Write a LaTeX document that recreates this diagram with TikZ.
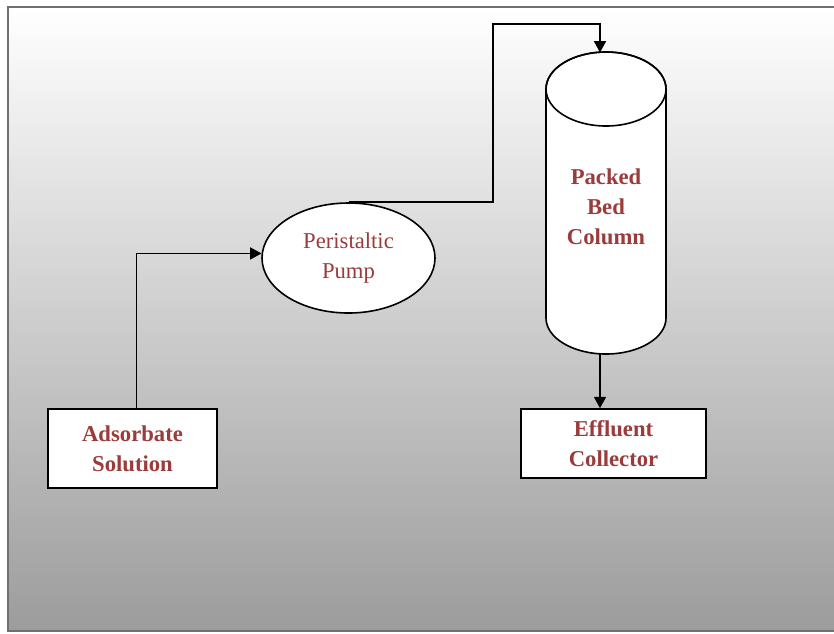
\documentclass[tikz,border=0pt]{standalone}
\usepackage{fontspec}
\setmainfont{Liberation Serif}
\usetikzlibrary{arrows.meta,shapes.geometric}
\definecolor{labelred}{RGB}{155,59,59}
\definecolor{framegray}{RGB}{112,112,112}
\definecolor{bottomgray}{RGB}{156,156,156}
\begin{document}
\begin{tikzpicture}[x=0.75pt,y=-0.75pt,>={Triangle[length=8.5pt,width=9pt]},
    unit/.style={draw=black,fill=white,line width=1.2pt,inner sep=0pt,align=center,
                 text=labelred,font=\fontsize{17}{22.5}\selectfont},
    boldunit/.style={unit,font=\fontsize{17}{22.5}\selectfont\bfseries},
    pipe/.style={->,line width=1.1pt}]
            \useasboundingbox (0,0) rectangle (834,633);
            %\draw[ultra thin,gray!20](0,0) grid[step=50] (834,633);
            \fill[top color=white,bottom color=bottomgray] (8,7) rectangle (845,631);
            \draw[framegray,line width=1.5pt] (8,7) rectangle (845,631);
            % packed bed column
            \draw[fill=white,line width=1.2pt] (546,89) -- (546,318)
                arc[start angle=180,end angle=0,x radius=60,y radius=36] -- (666,89)
                arc[start angle=0,end angle=-180,x radius=60,y radius=37] -- cycle;
            \draw[line width=1.2pt] (606,89) ellipse [x radius=60,y radius=37];
            \coordinate (coltop) at (600,52.5);
            \coordinate (colbot) at (600,354);
            \node[boldunit,draw=none,fill=none] (col) at (606,207) {Packed\\Bed\\Column};
            \node[unit,ellipse,minimum width=173*0.75pt,minimum height=110*0.75pt] (pump) at (348.5,258) {Peristaltic\\Pump};
            \node[boldunit,minimum width=169*0.75pt,minimum height=79*0.75pt] (sol) at (132.5,448.5) {Adsorbate\\Solution};
            \node[boldunit,minimum width=185*0.75pt,minimum height=69*0.75pt] (eff) at (613.5,443.5) {Effluent\\Collector};
            \coordinate (bend) at (493,24);
            \draw[pipe] ([xshift=3pt]sol.north) |- (pump.177);
            \draw[pipe] (pump.north) -| (bend) -| (coltop);
            \draw[pipe] (colbot) -- (colbot |- eff.north);
    \end{tikzpicture}
\end{document}
